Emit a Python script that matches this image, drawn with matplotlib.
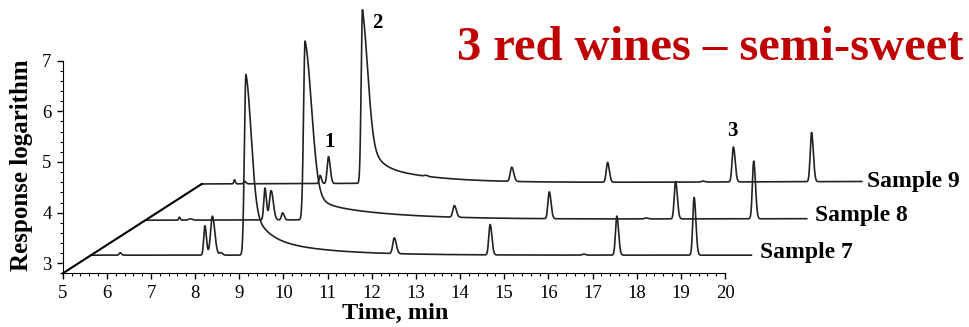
import numpy as np
import matplotlib
matplotlib.use("Agg")
import matplotlib.pyplot as plt
from matplotlib.ticker import MultipleLocator

# --- chromatogram data (retention time, min / log response) ---
# Sample 7
s7_span = (5.65, 20.6)
s7_base = (3.16, 3.16)
s7_rt = [6.30, 8.22, 8.39, 8.58, 12.51, 14.68, 16.80, 17.55, 19.30]
s7_h = [0.05, 0.58, 0.77, 0.05, 0.31, 0.60, 0.02, 0.77, 1.14]
s7_w = [0.03, 0.035, 0.055, 0.04, 0.045, 0.04, 0.04, 0.04, 0.04]
s7_main = (9.15, 3.57, 0.035, 0.12)          # apex, height, left/right sigma
s7_tail = [(0.9, 0.3), (0.42, 1.3)]           # tail amplitude, decay

# Sample 8
s8_span = (6.88, 21.85)
s8_base = (3.85, 3.88)
s8_rt = [7.64, 7.86, 7.92, 9.58, 9.72, 9.98, 13.87, 16.02, 18.21, 18.88, 20.65]
s8_h = [0.06, 0.02, 0.02, 0.63, 0.58, 0.14, 0.23, 0.53, 0.02, 0.74, 1.14]
s8_w = [0.02, 0.03, 0.03, 0.035, 0.05, 0.035, 0.045, 0.04, 0.04, 0.04, 0.04]
s8_main = (10.49, 3.53, 0.035, 0.15)
s8_tail = [(0.6, 0.2), (0.38, 1.6)]

# Sample 9
s9_span = (8.15, 23.1)
s9_base = (4.566, 4.615)
s9_rt = [8.89, 9.12, 10.83, 11.02, 13.22, 15.17, 17.34, 19.50, 20.19, 21.96]
s9_h = [0.08, 0.05, 0.16, 0.53, 0.02, 0.28, 0.39, 0.02, 0.69, 0.97]
s9_w = [0.02, 0.03, 0.03, 0.04, 0.04, 0.045, 0.04, 0.04, 0.04, 0.04]
s9_main = (11.79, 3.43, 0.03, 0.125)
s9_tail = [(1.05, 0.2), (0.435, 1.23)]

peak_labels = ["1", "2", "3"]
peak_label_pos = [(11.04, 5.40), (12.12, 7.74), (20.17, 5.62)]
sample_names = ["Sample 7", "Sample 8", "Sample 9"]
sample_label_pos = [(20.79, 3.21), (22.04, 3.95), (23.21, 4.61)]


def bigauss(t, c, h, wl, wr):
    s = np.where(t < c, wl, wr)
    return h * np.exp(-0.5 * ((t - c) / s) ** 2)


def tailed_peak(t, main, tail):
    c, h, wl, wr = main
    tail_sum = sum(a for a, _ in tail)
    y = np.zeros_like(t)
    left = t < c
    y[left] = h * np.exp(-0.5 * ((t[left] - c) / wl) ** 2)
    dt = t[~left] - c
    y[~left] = (h - tail_sum) * np.exp(-0.5 * (dt / wr) ** 2)
    for a, tau in tail:
        y[~left] += a * np.exp(-dt / tau)
    return y


def build_trace(span, base, rt, h, w, main, tail):
    t = np.arange(span[0], span[1], 0.002)
    y = np.linspace(base[0], base[1], t.size)
    for c, a, s in zip(rt, h, w):
        y += bigauss(t, c, a, 0.75 * s, s)
    y += tailed_peak(t, main, tail)
    return t, y


plt.rcParams['font.family'] = ['Liberation Serif', 'DejaVu Serif']

fig = plt.figure(figsize=(9.69, 3.27), dpi=100)
ax = fig.add_axes([0.0647, 0.1639, 0.6835, 0.6505])

traces = [
    build_trace(s7_span, s7_base, s7_rt, s7_h, s7_w, s7_main, s7_tail),
    build_trace(s8_span, s8_base, s8_rt, s8_h, s8_w, s8_main, s8_tail),
    build_trace(s9_span, s9_base, s9_rt, s9_h, s9_w, s9_main, s9_tail),
]
for t, y in traces:
    ax.plot(t, y, color='#222222', lw=1.2, clip_on=False)

# depth axis of the waterfall
ax.plot([5, s9_span[0]], [2.8, s9_base[0]], color='black', lw=1.5, clip_on=False)

for name, (x, y) in zip(sample_names, sample_label_pos):
    ax.text(x, y, name, fontsize=17, fontweight='bold', ha='left', va='center')
for lab, (x, y) in zip(peak_labels, peak_label_pos):
    ax.text(x, y, lab, fontsize=15, fontweight='bold', ha='center', va='center')

ax.set_xlim(5, 20)
ax.set_ylim(2.8, 7)
ax.spines['top'].set_visible(False)
ax.spines['right'].set_visible(False)
ax.spines['left'].set_bounds(2.8, 7)
ax.xaxis.set_major_locator(MultipleLocator(1))
ax.xaxis.set_minor_locator(MultipleLocator(0.2))
ax.yaxis.set_major_locator(MultipleLocator(1))
ax.yaxis.set_minor_locator(MultipleLocator(0.2))
ax.set_yticks([3, 4, 5, 6, 7])
ax.tick_params(which='major', length=4, width=1, labelsize=13.5, pad=4)
ax.tick_params(which='minor', length=2.5, width=0.8)
ax.patch.set_visible(False)

fig.text(22 / 969, 1 - 165 / 327, "Response logarithm", rotation=90,
         fontsize=18, fontweight='bold', ha='center', va='center')
fig.text(395 / 969, 1 - 319 / 327, "Time, min", fontsize=17.5,
         fontweight='bold', ha='center', va='baseline')
fig.text(0.994, 1 - 60 / 327, "3 red wines \u2013 semi-sweet", fontsize=35,
         fontweight='bold', color='#C00000', ha='right', va='baseline')

fig.savefig("out.png", dpi=100)
